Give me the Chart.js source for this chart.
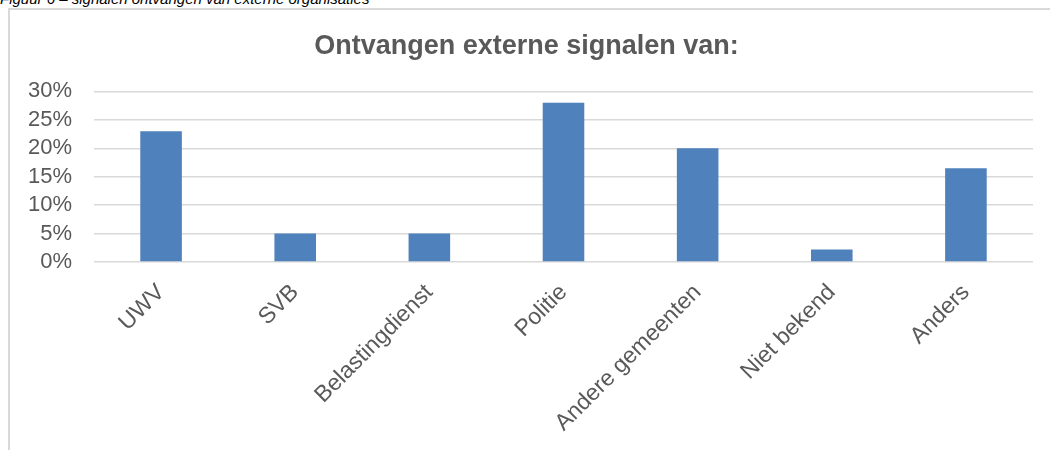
<!DOCTYPE html>
<html>
<head>
<meta charset="utf-8">
<script src="https://cdn.jsdelivr.net/npm/chart.js@4"></script>
<style>
    html, body { margin: 0; padding: 0; background: #fff; overflow: hidden; }
    body { width: 1050px; height: 450px; position: relative; font-family: "Liberation Sans", Arial, sans-serif; }
    .caption {
        position: absolute; left: 0; top: -10px;
        font-size: 15px; font-style: italic; color: #000;
        white-space: nowrap;
    }
    .frame {
        position: absolute; left: 8px; top: 8px; width: 1100px; height: 500px;
        border-left: 2px solid #d9d9d9; border-top: 2px solid #d9d9d9;
    }
    #wrap { position: absolute; left: 0; top: 0; width: 1050px; height: 450px; }
</style>
</head>
<body>
<div class="caption">Figuur 6 – signalen ontvangen van externe organisaties</div>
<div class="frame"></div>
<div id="wrap"><canvas id="grafiek"></canvas></div>
<script>
// ========================================
// DADOS
// ========================================
const categorieen = ['UWV', 'SVB', 'Belastingdienst', 'Politie', 'Andere gemeenten', 'Niet bekend', 'Anders'];
const percentages = [23, 5, 5, 28, 20, 2.2, 16.5];
const yTicks = [0, 5, 10, 15, 20, 25, 30];

const tekstKleur = '#595959';
const lettertype = '"Liberation Sans", Arial, sans-serif';

// ========================================
// GRAFIEK
// ========================================
const ctx = document.getElementById('grafiek');

new Chart(ctx, {
    type: 'bar',
    data: {
        labels: categorieen,
        datasets: [{
            label: 'Ontvangen externe signalen',
            data: percentages,
            backgroundColor: '#4f81bd',
            borderWidth: 0,
            barPercentage: 0.31,
            categoryPercentage: 1
        }]
    },
    options: {
        responsive: true,
        maintainAspectRatio: false,
        animation: false,
        layout: {
            padding: { left: 20, right: 17, top: 0, bottom: 0 }
        },
        plugins: {
            legend: { display: false },
            tooltip: { enabled: false },
            title: {
                display: true,
                text: 'Ontvangen externe signalen van:',
                color: tekstKleur,
                font: { family: lettertype, size: 27, weight: 'bold' },
                padding: { top: 30, bottom: 29 }
            }
        },
        scales: {
            y: {
                min: 0,
                max: 30,
                afterBuildTicks: (scale) => {
                    scale.ticks = yTicks.map(v => ({ value: v }));
                },
                afterFit: (scale) => { scale.width = 74; },
                ticks: {
                    color: tekstKleur,
                    padding: 22,
                    autoSkip: false,
                    font: { family: lettertype, size: 22, lineHeight: 1 },
                    callback: (value) => value + '%'
                },
                grid: {
                    color: '#d9d9d9',
                    lineWidth: 1.5,
                    drawTicks: false
                },
                border: { display: false }
            },
            x: {
                afterFit: (scale) => { scale.height = 188; },
                ticks: {
                    color: tekstKleur,
                    padding: 9,
                    minRotation: 45,
                    maxRotation: 45,
                    autoSkip: false,
                    font: { family: lettertype, size: 23 }
                },
                grid: { display: false },
                border: { display: false }
            }
        }
    }
});
</script>
</body>
</html>
